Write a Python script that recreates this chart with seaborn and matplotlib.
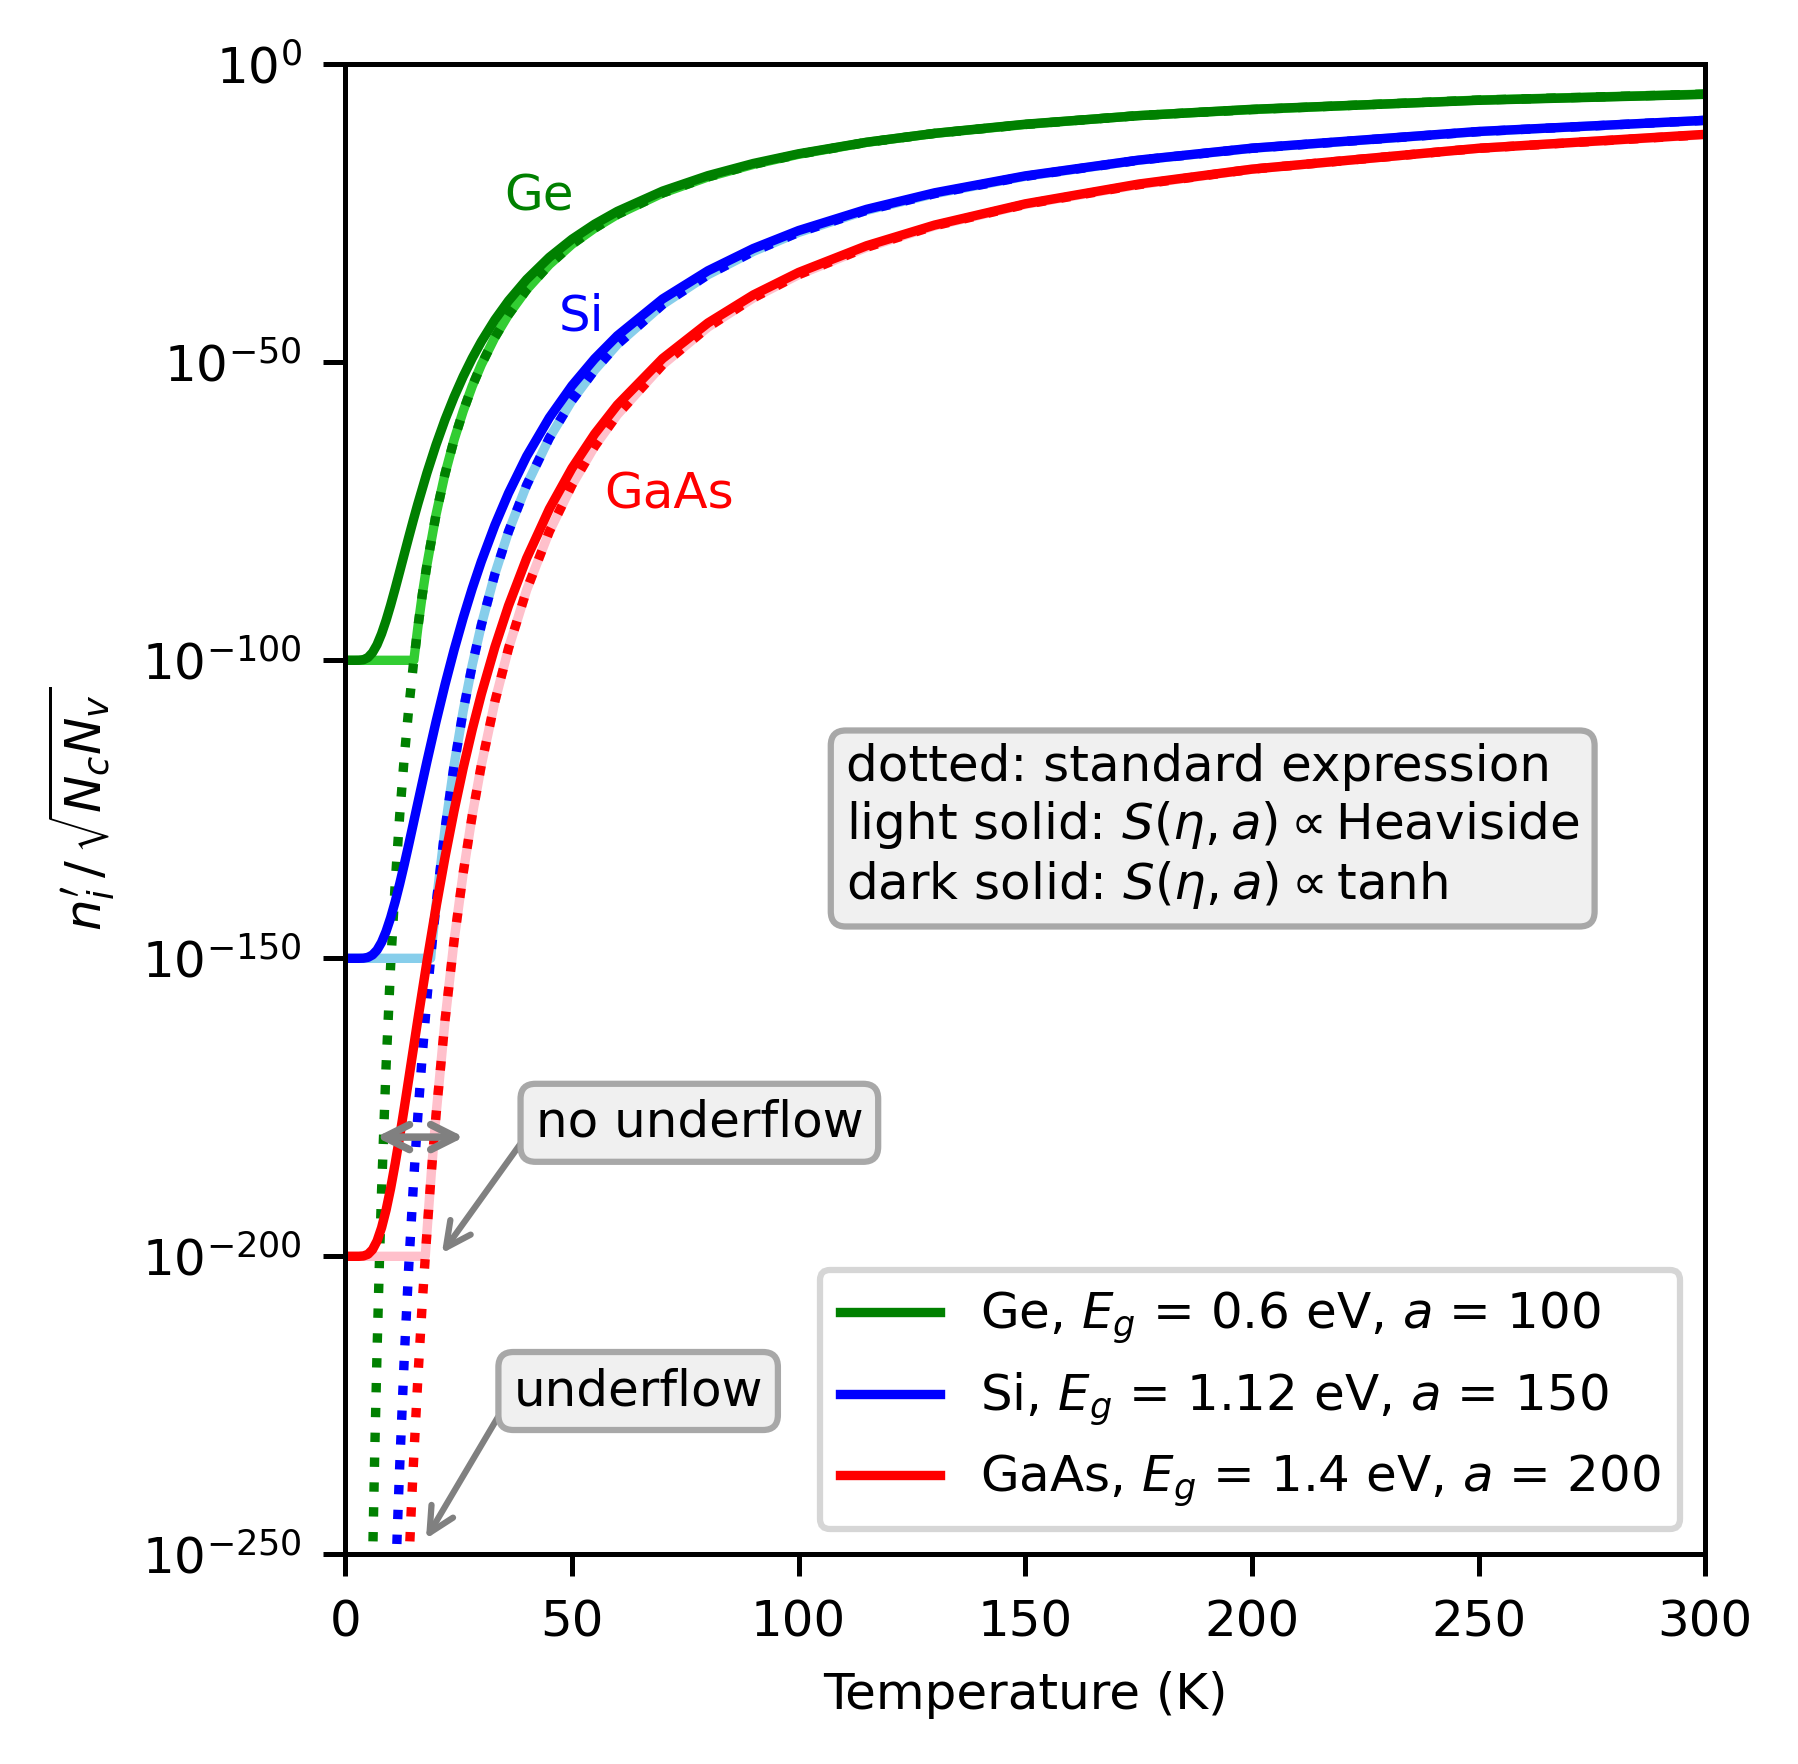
import numpy as np
import matplotlib
matplotlib.use("Agg")
import matplotlib.pyplot as plt
import seaborn as sns
from matplotlib.ticker import NullLocator

# ---------------- data (log10 of n_i' / sqrt(NcNv)) ----------------
# Ge, Eg = 0.6 eV, a = 100
T_dot_ge = [6, 6.5, 7, 7.5, 8, 9, 10, 11, 12, 13, 14, 15, 16, 17, 18, 20, 22, 24, 26, 28,
            30, 33, 36, 40, 45, 50, 55, 60, 70, 80, 90, 100, 115, 130, 150, 175, 200, 250, 300]
log_dot_ge = [-252.0, -232.6, -216.0, -201.6, -189.0, -168.0, -151.2, -137.5, -126.0, -116.3,
              -108.0, -100.8, -94.5, -88.9, -84.0, -75.6, -68.7, -63.0, -58.2, -54.0,
              -50.4, -45.8, -42.0, -37.8, -33.6, -30.2, -27.5, -25.2, -21.6, -18.9,
              -16.8, -15.1, -13.1, -11.6, -10.1, -8.6, -7.6, -6.0, -5.0]
T_light_ge = [0, 15.12, 16, 17, 18, 20, 22, 24, 26, 28, 30, 33, 36, 40, 45, 50, 55, 60, 70, 80,
              90, 100, 115, 130, 150, 175, 200, 250, 300]
log_light_ge = [-100.0, -100.0, -94.5, -88.9, -84.0, -75.6, -68.7, -63.0, -58.2, -54.0,
                -50.4, -45.8, -42.0, -37.8, -33.6, -30.2, -27.5, -25.2, -21.6, -18.9,
                -16.8, -15.1, -13.1, -11.6, -10.1, -8.6, -7.6, -6.0, -5.0]
T_dark_ge = [0, 2, 3, 4, 5, 6, 7, 8, 9, 10, 11, 12, 13, 14, 15, 16, 18, 20, 22, 24, 26, 28,
             30, 33, 36, 40, 45, 50, 55, 60, 70, 80, 90, 100, 115, 130, 150, 175, 200, 250, 300]
log_dark_ge = [-100.0, -100.0, -99.99, -99.9, -99.53, -98.71, -97.38, -95.54, -93.29, -90.73,
               -87.97, -85.10, -82.20, -79.32, -76.49, -73.75, -68.58, -63.87, -59.62, -55.81,
               -52.38, -49.30, -46.53, -42.86, -39.69, -36.10, -32.39, -29.35, -26.82, -24.68,
               -21.27, -18.68, -16.64, -15.01, -13.07, -11.58, -10.05, -8.62, -7.55, -6.04, -5.04]

# Si, Eg = 1.12 eV, a = 150
T_dot_si = [11, 11.5, 12, 13, 14, 15, 16, 17, 18, 19, 20, 22, 24, 26, 28, 30, 33, 36, 40, 45,
            50, 55, 60, 70, 80, 90, 100, 115, 130, 150, 175, 200, 250, 300]
log_dot_si = [-256.6, -245.4, -235.2, -217.1, -201.6, -188.2, -176.4, -166.0, -156.8, -148.5,
              -141.1, -128.3, -117.6, -108.5, -100.8, -94.1, -85.5, -78.4, -70.6, -62.7,
              -56.4, -51.3, -47.0, -40.3, -35.3, -31.4, -28.2, -24.5, -21.7, -18.8,
              -16.1, -14.1, -11.3, -9.4]
T_light_si = [0, 18.82, 19, 20, 22, 24, 26, 28, 30, 33, 36, 40, 45, 50, 55, 60, 70, 80, 90,
              100, 115, 130, 150, 175, 200, 250, 300]
log_light_si = [-150.0, -150.0, -148.5, -141.1, -128.3, -117.6, -108.5, -100.8, -94.1, -85.5,
                -78.4, -70.6, -62.7, -56.4, -51.3, -47.0, -40.3, -35.3, -31.4, -28.2,
                -24.5, -21.7, -18.8, -16.1, -14.1, -11.3, -9.4]
T_dark_si = [0, 3, 4, 5, 6, 7, 8, 9, 10, 11, 12, 13, 14, 15, 16, 18, 20, 22, 24, 26, 28, 30,
             33, 36, 40, 45, 50, 55, 60, 70, 80, 90, 100, 115, 130, 150, 175, 200, 250, 300]
log_dark_si = [-150.0, -150.0, -149.98, -149.84, -149.43, -148.62, -147.31, -145.48, -143.19,
               -140.51, -137.50, -134.27, -130.89, -127.42, -123.93, -117.00, -110.34, -104.07,
               -98.25, -92.88, -87.94, -83.42, -77.32, -71.96, -65.77, -59.30, -53.92, -49.40,
               -45.55, -39.37, -34.64, -30.91, -27.89, -24.33, -21.56, -18.72, -16.07, -14.07,
               -11.27, -9.40]

# GaAs, Eg = 1.4 eV, a = 200
T_dot_gaas = [14, 14.5, 15, 16, 17, 18, 19, 20, 22, 24, 26, 28, 30, 33, 36, 40, 45, 50, 55, 60,
              70, 80, 90, 100, 115, 130, 150, 175, 200, 250, 300]
log_dot_gaas = [-252.0, -243.3, -235.2, -220.5, -207.5, -196.0, -185.7, -176.4, -160.4, -147.0,
                -135.7, -126.0, -117.6, -106.9, -98.0, -88.2, -78.4, -70.6, -64.1, -58.8,
                -50.4, -44.1, -39.2, -35.3, -30.7, -27.1, -23.5, -20.2, -17.6, -14.1, -11.8]
T_light_gaas = [0, 17.64, 18, 19, 20, 22, 24, 26, 28, 30, 33, 36, 40, 45, 50, 55, 60, 70, 80,
                90, 100, 115, 130, 150, 175, 200, 250, 300]
log_light_gaas = [-200.0, -200.0, -196.0, -185.7, -176.4, -160.4, -147.0, -135.7, -126.0,
                  -117.6, -106.9, -98.0, -88.2, -78.4, -70.6, -64.1, -58.8, -50.4, -44.1,
                  -39.2, -35.3, -30.7, -27.1, -23.5, -20.2, -17.6, -14.1, -11.8]
T_dark_gaas = [0, 3, 4, 5, 6, 7, 8, 9, 10, 11, 12, 13, 14, 15, 16, 18, 20, 22, 24, 26, 28, 30,
               33, 36, 40, 45, 50, 55, 60, 70, 80, 90, 100, 115, 130, 150, 175, 200, 250, 300]
log_dark_gaas = [-200.0, -200.0, -199.94, -199.66, -198.88, -197.43, -195.20, -192.22, -188.59,
                 -184.44, -179.91, -175.13, -170.21, -165.23, -160.28, -150.61, -141.48, -133.01,
                 -125.22, -118.10, -111.61, -105.69, -97.77, -90.84, -82.89, -74.61, -67.77,
                 -62.03, -57.16, -49.36, -43.40, -38.70, -34.92, -30.44, -26.97, -23.41, -20.09,
                 -17.59, -14.09, -11.75]

names = ["Ge", "Si", "GaAs"]
legend_labels = ["Ge, $E_g$ = 0.6 eV, $a$ = 100",
                 "Si, $E_g$ = 1.12 eV, $a$ = 150",
                 "GaAs, $E_g$ = 1.4 eV, $a$ = 200"]
dark_colors = ["green", "blue", "red"]
light_colors = ["limegreen", "skyblue", "pink"]
name_pos_T = [42.7, 52.2, 71.4]
name_pos_log = [-22.1, -42.3, -72.1]
xtick_vals = [0, 50, 100, 150, 200, 250, 300]
ytick_exps = [-250, -200, -150, -100, -50, 0]

# ---------------- style ----------------
plt.rcParams["font.family"] = ["DejaVu Sans"]
plt.rcParams["font.size"] = 8
plt.rcParams["mathtext.fontset"] = "dejavusans"

fig = plt.figure(figsize=(1798 / 450, 1764 / 450), dpi=450)
ax = fig.add_axes([0.19205, 0.11887, 0.75639, 0.84468])
ax.set_yscale("log")

series = [
    (T_light_ge, log_light_ge, T_dot_ge, log_dot_ge, T_dark_ge, log_dark_ge),
    (T_light_si, log_light_si, T_dot_si, log_dot_si, T_dark_si, log_dark_si),
    (T_light_gaas, log_light_gaas, T_dot_gaas, log_dot_gaas, T_dark_gaas, log_dark_gaas),
]

handles = []
for i, (Tl, ll, Td, ld, Tk, lk) in enumerate(series):
    sns.lineplot(x=Tl, y=10.0 ** np.array(ll), color=light_colors[i], linewidth=1.5,
                 estimator=None, legend=False, ax=ax)
    sns.lineplot(x=Td, y=10.0 ** np.array(ld), color=dark_colors[i], linewidth=1.5,
                 linestyle=":", estimator=None, legend=False, ax=ax)
    sns.lineplot(x=Tk, y=10.0 ** np.array(lk), color=dark_colors[i], linewidth=1.5,
                 estimator=None, legend=False, ax=ax)
    handles.append(ax.lines[-1])
    ax.text(name_pos_T[i], 10.0 ** name_pos_log[i], names[i], color=dark_colors[i],
            ha="center", va="center", fontsize=8)

ax.set_xlim(0, 300)
ax.set_ylim(10.0 ** -250, 1.0)
ax.set_xticks(xtick_vals)
ax.set_yticks([10.0 ** e for e in ytick_exps])
ax.yaxis.set_minor_locator(NullLocator())
ax.set_xlabel("Temperature (K)")
ax.set_ylabel(r"$n_i' \,/\, \sqrt{N_c N_v}$")

box = dict(boxstyle="round", fc="#f0f0f0", ec="#a8a8a8", lw=1.0)

ax.text(0.368, 0.4878,
        "dotted: standard expression\n"
        "light solid: $S(\\eta, a) \\propto$Heaviside\n"
        "dark solid: $S(\\eta, a) \\propto$tanh",
        transform=ax.transAxes, ha="left", va="center", bbox=box)

# double arrow
ax.annotate("", xy=(6.8, 10.0 ** -180), xytext=(26.2, 10.0 ** -180),
            arrowprops=dict(arrowstyle="<->", color="gray", lw=1.2,
                            shrinkA=0, shrinkB=0, mutation_scale=10))

ax.annotate("no underflow", xy=(21.3, 10.0 ** -199.5), xytext=(78.1, 10.0 ** -177.6),
            ha="center", va="center", bbox=box,
            arrowprops=dict(arrowstyle="->", color="gray", lw=1.0, relpos=(0, 0.5),
                            shrinkA=0, shrinkB=0, mutation_scale=10))

ax.annotate("underflow", xy=(17.8, 10.0 ** -247.4), xytext=(64.6, 10.0 ** -222.6),
            ha="center", va="center", bbox=box,
            arrowprops=dict(arrowstyle="->", color="gray", lw=1.0, relpos=(0, 0.5),
                            shrinkA=0, shrinkB=0, mutation_scale=10))

ax.legend(handles, legend_labels, loc="lower right")

fig.savefig("out.png", dpi=450)
